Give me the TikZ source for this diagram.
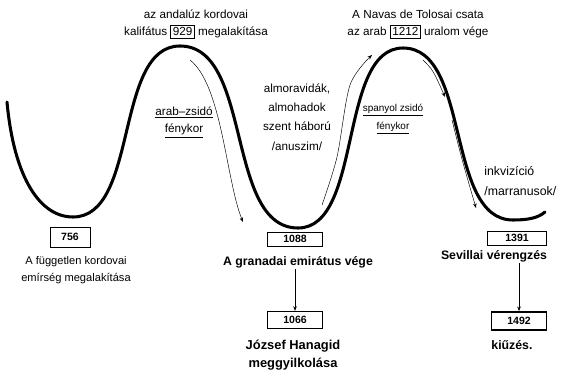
\documentclass[tikz,border=0pt]{standalone}
\usepackage{fontspec}
\setmainfont{Liberation Sans}
\usetikzlibrary{arrows.meta}

\tikzset{
  wave/.style={line width=2.6pt, line cap=round},
  flow/.style={thin, -{Stealth[length=4pt,width=3pt]}},
  yearbox/.style={draw, line width=0.7pt, inner sep=1pt, minimum width=1.65cm,
    minimum height=0.42cm, font=\fontsize{9}{10}\selectfont\bfseries},
  yearboxd/.style={yearbox, line width=1.2pt},
  lbl/.style={align=center, inner sep=1pt, font=\fontsize{10}{15}\selectfont},
  lblb/.style={lbl, font=\fontsize{10.5}{15}\selectfont\bfseries},
}
\setlength{\fboxsep}{1.5pt}
\setlength{\fboxrule}{0.6pt}

\begin{document}
\begin{tikzpicture}[x=0.03cm, y=-0.03cm]
    \useasboundingbox (0,0) rectangle (572,373);

    % the wave of history
    \draw[wave] (7,102) .. controls (14,178) and (40,217) .. (73,217)
      .. controls (139,217) and (114,46) .. (180,46)
      .. controls (253,46) and (225,228) .. (298,228)
      .. controls (363,228) and (338,48) .. (403,48)
      .. controls (471,48) and (445,220) .. (513,220)
      .. controls (528,220) and (538,218) .. (545,212);

    % thin arrows along the wave
    \draw[flow] (190,60) .. controls (222,85) and (226,180) .. (243,222);
    \draw[flow] plot[smooth] coordinates {(322,205) (337,157) (350,85) (372,55)};
    \draw[flow] (423,60) .. controls (433,70) .. (445,97);
    \draw[flow] (452,120) .. controls (462,160) .. (476,208);

    % top labels
    \node[lbl] (top929) at (196,24)
      {az andalúz kordovai\\kalifátus \fbox{929} megalakítása};
    \node[lbl] (top1212) at (418,24)
      {A Navas de Tolosai csata\\az arab \fbox{1212} uralom vége};

    % labels between the arches
    \node[lbl] (fenykor1) at (184,122) {\underline{arab–zsidó}\\\underline{fénykor}};
    \node[lbl, font=\fontsize{10}{16.5}\selectfont] (almor) at (297,117)
      {almoravidák,\\almohadok\\szent háború\\/anuszim/};
    \node[lbl, font=\fontsize{8.5}{15}\selectfont] (fenykor2) at (393,119)
      {\underline{spanyol zsidó}\\\underline{fénykor}};
    \node[lbl, align=left, anchor=west, font=\fontsize{10.5}{17}\selectfont] (inkv) at (483,181)
      {inkvizíció\\/marranusok/};

    % years at the troughs
    \node[yearbox, minimum width=1.2cm, minimum height=0.6cm] (b756) at (70,237) {756};
    \node[lbl, font=\fontsize{9.5}{15}\selectfont] (t756) at (76,270)
      {A független kordovai\\emírség megalakítása};

    \node[yearbox] (b1088) at (295,239) {1088};
    \node[lblb] (t1088) at (298,262) {A granadai emirátus vége};
    \node[yearboxd, minimum height=0.5cm] (b1066) at (295,320) {1066};
    \node[lblb, font=\fontsize{11}{15}\selectfont\bfseries] (t1066) at (293,355)
      {József Hanagid\\meggyilkolása};

    \node[yearbox, minimum width=1.75cm] (b1391) at (517,238) {1391};
    \node[lblb] (t1391) at (494,256) {Sevillai vérengzés};
    \node[yearboxd, minimum height=0.55cm] (b1492) at (519,321) {1492};
    \node[lblb, anchor=west] (t1492) at (490,345) {kiűzés.};

    \begin{scope}[every path/.style={flow}]
       \draw (t1088.south -| b1066.north) -- (b1066);
       \draw (t1391.south -| b1492.north) -- (b1492);
    \end{scope}

\end{tikzpicture}
\end{document}
